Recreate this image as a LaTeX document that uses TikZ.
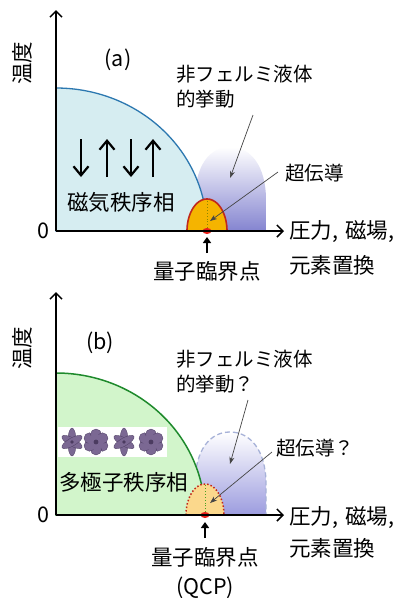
\documentclass[tikz,border=0pt]{standalone}
\usepackage{fontspec}
\newfontfamily\jp{Noto Sans CJK JP}
\usetikzlibrary{arrows.meta}
\definecolor{magfill}{HTML}{D6EDF1}
\definecolor{magline}{HTML}{2C78B0}
\definecolor{mpfill}{HTML}{D2F5CB}
\definecolor{mpline}{HTML}{1E8A2C}
\definecolor{nflA}{HTML}{8484D0}
\definecolor{nflB}{HTML}{9C9CDF}
\definecolor{nfledge}{HTML}{A7B2D8}
\definecolor{scA}{HTML}{F5B400}
\definecolor{scB}{HTML}{FBD88C}
\definecolor{scline}{HTML}{C0281C}
\definecolor{qcpdot}{HTML}{E8201A}
\definecolor{petal}{HTML}{7B6893}
\definecolor{petaldark}{HTML}{4B3B60}
\definecolor{ptrgray}{HTML}{454545}
\begin{document}
\begin{tikzpicture}[x=1pt,y=-1pt,
  axis/.style={line width=1.5pt,-{Straight Barb[length=6pt,width=12pt,line width=1.5pt]}},
  spin/.style={line width=2.2pt,-{Straight Barb[length=9pt,width=15pt,line width=2.2pt]}},
  pointer/.style={draw=ptrgray,line width=0.7pt,-{Stealth[length=7pt,width=5pt,inset=2pt]}},
  qcparrow/.style={line width=1.8pt,-{Triangle[length=6pt,width=8pt]}},
  big/.style={font=\jp\fontsize{21.5}{25}\selectfont,inner sep=0pt},
  mid/.style={font=\jp\fontsize{19.5}{25}\selectfont,inner sep=0pt},
  fl/.style={fill=petal,draw=petaldark,line width=0.3pt},
  flowerstar/.pic={
    \fill[fl] (0,0) ellipse[x radius=4.2, y radius=14];
    \fill[fl,rotate=60] (0,0) ellipse[x radius=4, y radius=11.5];
    \fill[fl,rotate=-60] (0,0) ellipse[x radius=4, y radius=11.5];
    \fill[petaldark] (0,0) circle[radius=1.8];
  },
  flowerround/.pic={
    \foreach \a in {30,90,...,330}
      \fill[fl] (\a:7.5) circle[radius=5.5];
    \fill[petal] (0,0) circle[radius=8];
    \fill[petaldark] (0,0) circle[radius=2.4];
  }
]
\useasboundingbox[fill=white] (0,0) rectangle (409,598);

% ---------------- (a) magnetic order ----------------
% non-Fermi-liquid dome
\shade[top color=white,bottom color=nflA]
  (195,231) -- (195,200) .. controls (195,165) and (210,147) .. (230,147)
  .. controls (250,147) and (266,165) .. (266,200) -- (266,231) -- cycle;
% ordered phase
\filldraw[fill=magfill,draw=magline,line width=1.3pt]
  (56,231) -- plot[domain=90:0,samples=80] ({56+151*cos(\x)},{231-143*sin(\x)}) -- cycle;
% superconducting dome
\filldraw[fill=scA,draw=scline,line width=1.6pt]
  plot[domain=180:0,samples=60] ({207+20*cos(\x)},{231-32*sin(\x)}) -- cycle;
\draw[dotted,line width=0.9pt,color=olive] (207,231) -- (207,200);
\fill[qcpdot] (207,231) ellipse[x radius=4.5, y radius=3];

% spin arrows
\coordinate (s1t) at (81,139);  \coordinate (s1b) at (81,177);
\coordinate (s2t) at (107,139); \coordinate (s2b) at (107,177);
\coordinate (s3t) at (131,139); \coordinate (s3b) at (131,177);
\coordinate (s4t) at (153,139); \coordinate (s4b) at (153,177);
\draw[spin] (s1t) -- (s1b);
\draw[spin] (s2b) -- (s2t);
\draw[spin] (s3t) -- (s3b);
\draw[spin] (s4b) -- (s4t);

% axes
\coordinate (oa) at (56,231);
\coordinate (ya) at (56,10);
\coordinate (xa) at (284,231);
\draw[axis] (oa) -- (ya);
\draw[axis] (oa) -- (xa);

% labels
\node[big,rotate=90] (tempa) at (22,63) {温度};
\node[big] (labela) at (118,60) {(a)};
\node[big] (zeroa) at (43,231) {0};
\node[big,anchor=west] (phasea) at (67,202) {磁気秩序相};
\node[mid,anchor=west,align=left] (nfla) at (176,87) {非フェルミ液体\\的挙動};
\node[mid,anchor=west] (sca) at (285,173) {超伝導};
\node[big,anchor=west] (xla1) at (289,232) {圧力,\,\,磁場,};
\node[big,anchor=west] (xla2) at (289,265) {元素置換};
\node[big] (qcpa) at (207,271) {量子臨界点};

% pointers
\coordinate (nfla-from) at (253,115);
\coordinate (nfla-to) at (230,178);
\coordinate (sca-from) at (278,172);
\coordinate (sca-to) at (210,221);
\coordinate (qcpa-from) at (207,253);
\coordinate (qcpa-to) at (207,237);
\draw[pointer] (nfla-from) -- (nfla-to);
\draw[pointer] (sca-from) -- (sca-to);
\draw[qcparrow] (qcpa-from) -- (qcpa-to);

% ---------------- (b) multipole order ----------------
\shade[top color=white,bottom color=nflB]
  (195,515) -- (195,484) .. controls (195,450) and (210,432) .. (230,432)
  .. controls (250,432) and (266,450) .. (266,484) -- (266,515) -- cycle;
\draw[nfledge,line width=1.3pt,dash pattern=on 5pt off 3pt]
  (195,515) -- (195,484) .. controls (195,450) and (210,432) .. (230,432)
  .. controls (250,432) and (266,450) .. (266,484) -- (266,515);
\filldraw[fill=mpfill,draw=mpline,line width=1.5pt]
  (56,515) -- plot[domain=90:0,samples=80] ({56+149*cos(\x)},{515-142*sin(\x)}) -- cycle;
\fill[scB] plot[domain=180:0,samples=60] ({205+19*cos(\x)},{515-31*sin(\x)}) -- cycle;
\draw[scline,line width=1.5pt,dotted]
  plot[domain=180:0,samples=60] ({205+19*cos(\x)},{515-31*sin(\x)});
\draw[dotted,line width=0.9pt,color=mpline!80!yellow] (205,515) -- (205,485);
\fill[qcpdot] (205,515) ellipse[x radius=4.5, y radius=3];

% multipole charge clouds
\fill[white] (58,427) rectangle (167,457);
\pic (m1) at (72,442) {flowerstar};
\pic (m2) at (96,442) {flowerround};
\pic (m3) at (124,442) {flowerstar};
\pic (m4) at (151,442) {flowerround};

% axes
\coordinate (ob) at (56,515);
\coordinate (yb) at (56,292);
\coordinate (xb) at (284,515);
\draw[axis] (ob) -- (yb);
\draw[axis] (ob) -- (xb);

% labels
\node[big,rotate=90] (tempb) at (22,348) {温度};
\node[big] (labelb) at (100,343) {(b)};
\node[big] (zerob) at (43,515) {0};
\node[big,anchor=west] (phaseb) at (59,482) {多極子秩序相};
\node[mid,anchor=west,align=left] (nflb) at (176,372) {非フェルミ液体\\的挙動？};
\node[mid,anchor=west] (scb) at (276,448) {超伝導？};
\node[big,anchor=west] (xlb1) at (289,518) {圧力,\,\,磁場,};
\node[big,anchor=west] (xlb2) at (289,548) {元素置換};
\node[big] (qcpb) at (205,557) {量子臨界点};
\node[big] (qcpnameb) at (205,588) {(QCP)};

% pointers
\coordinate (nflb-from) at (248,400);
\coordinate (nflb-to) at (230,464);
\coordinate (scb-from) at (272,452);
\coordinate (scb-to) at (210,503);
\coordinate (qcpb-from) at (205,538);
\coordinate (qcpb-to) at (205,522);
\draw[pointer] (nflb-from) -- (nflb-to);
\draw[pointer] (scb-from) -- (scb-to);
\draw[qcparrow] (qcpb-from) -- (qcpb-to);
\end{tikzpicture}
\end{document}
